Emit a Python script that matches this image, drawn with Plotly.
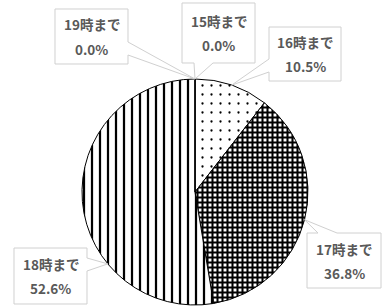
import math
import plotly.graph_objects as go

# ---- data ----
categories = ["15時まで", "16時まで", "17時まで", "18時まで", "19時まで"]
counts = [0, 2, 7, 10, 0]
percent_labels = ["0.0%", "10.5%", "36.8%", "52.6%", "0.0%"]
patterns = ["", ".", "+", "|", ""]

W, H = 383, 306
CX, CY, R = 195, 192, 113


def px(x):
    return x / W


def py(y):
    return 1 - y / H


fig = go.Figure()
fig.add_trace(go.Pie(
    labels=categories,
    values=counts,
    sort=False,
    direction="clockwise",
    rotation=0,
    textinfo="none",
    hoverinfo="label+percent",
    showlegend=False,
    domain=dict(x=[px(CX - R), px(CX + R)], y=[py(CY + R), py(CY - R)]),
    marker=dict(
        colors=["white"] * 5,
        line=dict(color="black", width=1),
        pattern=dict(
            shape=patterns,
            fgcolor="black",
            bgcolor="white",
            fillmode="replace",
            size=[8, 9, 5, 8, 8],
            solidity=[0.3, 0.05, 0.65, 0.28, 0.3],
        ),
    ),
))

total = sum(counts)
cum = []
acc = 0
for v in counts:
    cum.append((acc + v / 2) / total * 360)
    acc += v
tip_angles = [0, cum[1], cum[2], 230.5, 360]


def tip(angle):
    a = math.radians(angle)
    return CX + R * math.sin(a), CY - R * math.cos(a)


boxes = [
    (182, 3, 255, 63),
    (269, 27, 341, 81),
    (307, 233, 381, 288),
    (14, 248, 87, 304),
    (55, 9, 128, 64),
]


def outline(i):
    x0, y0, x1, y1 = boxes[i]
    tx, ty = tip(tip_angles[i])
    if i == 0:
        pts = [(x0, y0), (x1, y0), (x1, y1), (213, y1), (tx, ty), (194, y1), (x0, y1)]
    elif i == 1:
        pts = [(x0, y0), (x1, y0), (x1, y1), (x0, y1), (x0, 72), (tx, ty), (x0, 59)]
    elif i == 2:
        pts = [(x0, y0), (318, y0), (tx, ty), (337, y0), (x1, y0), (x1, y1), (x0, y1)]
    elif i == 3:
        pts = [(x0, y0), (x1, y0), (x1, 258), (tx, ty), (x1, 271), (x1, y1), (x0, y1)]
    else:
        pts = [(x0, y0), (x1, y0), (x1, 42), (tx, ty), (x1, 55), (x1, y1), (x0, y1)]
    return "M" + " L".join(f"{px(x):.5f},{py(y):.5f}" for x, y in pts) + " Z"


for i in range(len(categories)):
    fig.add_shape(type="path", path=outline(i), xref="paper", yref="paper",
                  line=dict(color="#D0D0D0", width=1), fillcolor="white", layer="above")

text_font = dict(family="Noto Sans CJK JP, Noto Sans, sans-serif", size=13.5,
                 color="#595959", weight="bold")
for i, (cat, pct) in enumerate(zip(categories, percent_labels)):
    x0, y0, x1, y1 = boxes[i]
    xc = (x0 + x1) / 2
    yc = (y0 + y1) / 2
    for txt, dy in ((cat, -12), (pct, 12)):
        fig.add_annotation(x=px(xc), y=py(yc + dy), xref="paper", yref="paper",
                           text=txt, showarrow=False, font=text_font,
                           xanchor="center", yanchor="middle")

fig.update_layout(
    width=W, height=H,
    margin=dict(l=0, r=0, t=0, b=0),
    paper_bgcolor="white",
    plot_bgcolor="white",
)
fig.write_html(
    "out.html",
    config={"displayModeBar": False},
    post_script="document.body.style.margin='0';document.body.style.overflow='hidden';",
)
